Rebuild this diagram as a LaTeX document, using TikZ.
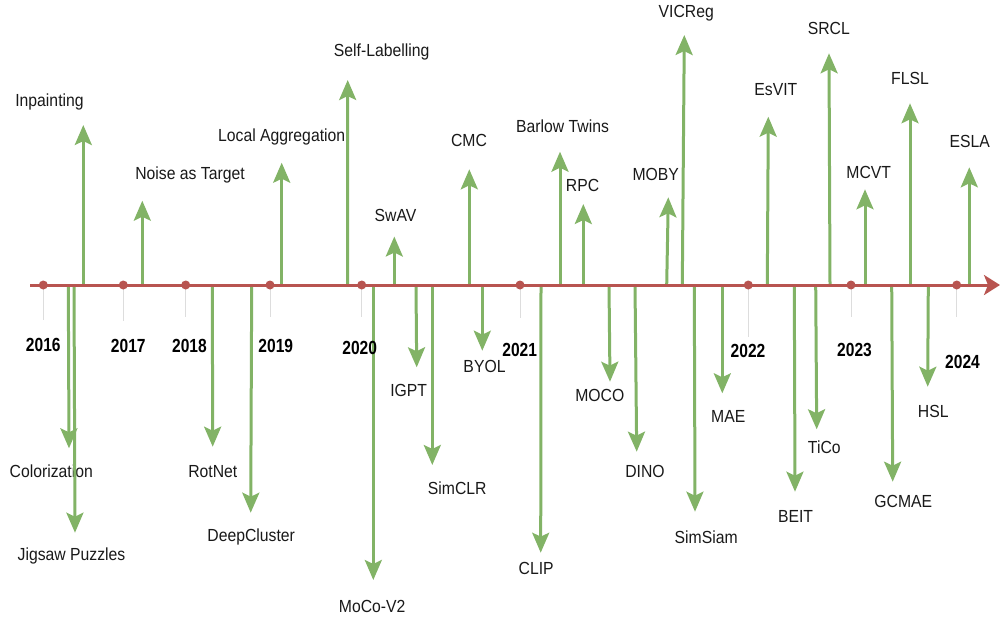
\documentclass[tikz,border=0pt]{standalone}
\usepackage{fontspec}
\setmainfont{Liberation Sans}[FakeStretch=0.9]
\newfontfamily\yearfont{Liberation Sans}[FakeStretch=0.82]
\usetikzlibrary{arrows.meta}
\definecolor{axisred}{HTML}{B85450}
\definecolor{evgreen}{HTML}{82B366}
\definecolor{tickgray}{HTML}{DDDDDD}
\begin{document}
\begin{tikzpicture}[x=1pt,y=-1pt,
  evarrow/.style={draw=evgreen, line width=3pt, -{Stealth[length=20pt,width=17pt,inset=4pt]}},
  evlabel/.style={font=\fontsize{17.5}{20}\selectfont, text=black!90, inner sep=0pt},
  yearlabel/.style={font={\yearfont\bfseries\fontsize{19}{22}\selectfont}, inner sep=0pt},
  yeartick/.style={draw=tickgray, line width=1pt},
  yeardot/.style={circle, fill=axisred, minimum size=9pt, inner sep=0pt},
  axisline/.style={draw=axisred, line width=3pt, -{Stealth[length=16pt,width=20pt,inset=4pt]}}]
\useasboundingbox (0,0) rectangle (1000,621);
\clip (0,0) rectangle (1000,621);
% axis end points
\coordinate (axis-s) at (30,285);
\coordinate (axis-e) at (1000,285);
% year ticks
\foreach \n/\x/\tb in {2016/43.3/320, 2017/123.3/321, 2018/185.7/317, 2019/270/317,
  2020/361.7/317, 2021/520/318, 2022/748.3/337, 2023/851/317, 2024/956.7/317}{
  \coordinate (y\n-c) at (\x,285);
  \coordinate (y\n-d) at (\x,\tb);
  \draw[yeartick] (y\n-c) -- (y\n-d);
}
% upward events
\foreach \n/\bx/\tx/\ty/\lx/\ly/\txt in {
  inp/83.3/83.3/125/49.5/101.7/Inpainting,
  noise/142.3/142.3/200.7/190/175/Noise as Target,
  locagg/281.7/281.7/162.7/281.7/137/Local Aggregation,
  selflab/347.5/347.7/80/381.7/51.7/Self-Labelling,
  swav/394.3/394.3/236.5/395.5/215/SwAV,
  cmc/469.3/469.3/169.3/469/140.7/CMC,
  barlow/560/560/151.7/562.5/126.7/Barlow Twins,
  rpc/583.3/583.3/204/582.5/185.7/RPC,
  moby/666.7/668.3/197.3/655.8/174/MOBY,
  vicreg/682.3/684.3/35/686.3/13.3/VICReg,
  esvit/767.3/768.3/116.7/775.8/90/EsVIT,
  srcl/830/829/53.3/828.8/28.3/SRCL,
  mcvt/865/865/189.3/868.7/172.7/MCVT,
  flsl/910/910/103.3/910/78.3/FLSL,
  esla/969.3/969.3/167.3/969.7/141.7/ESLA}{
  \coordinate (\n-b) at (\bx,285);
  \coordinate (\n-t) at (\tx,\ty);
  \draw[evarrow] (\n-b) -- (\n-t);
  \node[evlabel] (\n) at (\lx,\ly) {\txt};
}
% downward events
\foreach \n/\bx/\tx/\ty/\lx/\ly/\txt in {
  color/68.3/69/448.3/51.3/471.7/Colorization,
  jigsaw/74/75/532.7/71.5/556/Jigsaw Puzzles,
  rotnet/212.3/212.7/446.7/212.8/471.7/RotNet,
  deepcl/251.7/250.7/512.7/251.2/537.3/DeepCluster,
  mocov2/373.3/373.3/580/372.2/606/MoCo-V2,
  igpt/416/416.7/367.3/408.7/390.7/IGPT,
  simclr/432.3/432.3/465/457.2/488.3/SimCLR,
  byol/482.3/482.3/350.7/484.5/366/BYOL,
  clip/541/540.7/552.7/536.2/568.3/CLIP,
  moco/609/610/381.7/599.8/395/MOCO,
  dino/635/636.7/451.7/645/471.7/DINO,
  simsiam/694.3/695/511.7/706.2/537.3/SimSiam,
  mae/722.3/722.3/393.3/728.3/416/MAE,
  beit/794.3/795/491.7/795.5/516/BEIT,
  tico/815.7/816.7/429.3/824.3/447.3/TiCo,
  gcmae/891.7/892.7/481.7/903.3/501.7/GCMAE,
  hsl/928.3/927.7/386.7/933.3/411/HSL}{
  \coordinate (\n-b) at (\bx,285);
  \coordinate (\n-t) at (\tx,\ty);
  \draw[evarrow] (\n-b) -- (\n-t);
  \node[evlabel] (\n) at (\lx,\ly) {\txt};
}
% axis
\draw[axisline] (axis-s) -- (axis-e);
% year dots and labels
\foreach \n/\lx/\ly in {2016/43.3/344.7, 2017/128.3/346, 2018/189.5/346, 2019/275.8/346,
  2020/359.7/348.3, 2021/519.7/350, 2022/748/350.7, 2023/854.5/350, 2024/962.5/361.7}{
  \node[yeardot] (y\n-dot) at (y\n-c) {};
  \node[yearlabel] (y\n) at (\lx,\ly) {\n};
}
\end{tikzpicture}
\end{document}
